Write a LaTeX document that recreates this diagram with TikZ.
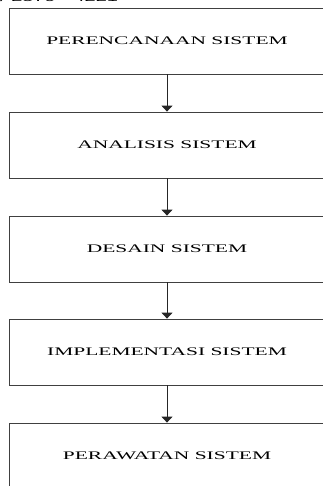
\documentclass[tikz,border=0pt]{standalone}
\usepackage{fontspec}
\setmainfont{Liberation Serif}
\newfontfamily\hdrfont{Liberation Sans}
\usetikzlibrary{arrows.meta}
\tikzset{
  stagebox/.style={draw=black!75, line width=0.8pt, minimum width=316pt, minimum height=66pt, inner sep=0pt, font=\fontsize{11.6}{13}\selectfont},
  flowarrow/.style={draw=black!85, line width=1pt, -{Triangle[width=11pt,length=6pt]}}
}
\newcommand{\wide}[1]{\scalebox{1.85}[1]{#1}}
\begin{document}
\begin{tikzpicture}[x=1pt,y=1pt]
\useasboundingbox (0,0) rectangle (323,-486);
\clip (0,0) rectangle (323,-486);
\node[anchor=base west, inner sep=0pt, font=\hdrfont\fontsize{10}{12}\selectfont] (hdr) at (0,-2) {\scalebox{2}[1]{/ 2579 - 4221}};
\node[stagebox] (s1) at (167,-41) {\wide{PERENCANAAN SISTEM}};
\node[stagebox] (s2) at (167,-145) {\wide{ANALISIS SISTEM}};
\node[stagebox] (s3) at (167,-249) {\wide{DESAIN SISTEM}};
\node[stagebox] (s4) at (167,-352) {\wide{IMPLEMENTASI SISTEM}};
\node[stagebox] (s5) at (167,-456) {\wide{PERAWATAN SISTEM}};
\draw[flowarrow] (s1.south) -- (s2.north);
\draw[flowarrow] (s2.south) -- (s3.north);
\draw[flowarrow] (s3.south) -- (s4.north);
\draw[flowarrow] (s4.south) -- (s5.north);
\end{tikzpicture}
\end{document}
